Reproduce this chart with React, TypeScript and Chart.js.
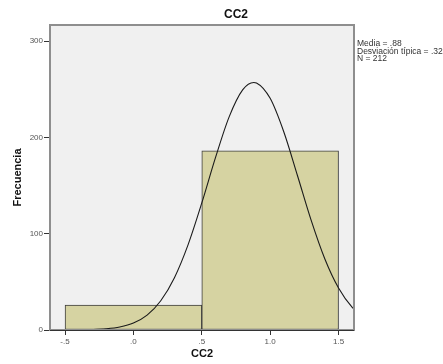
import { useEffect, useRef } from "react";
import { Chart, registerables } from "chart.js";

Chart.register(...registerables);

// Histogram bins (centers and counts)
const BIN_CENTERS = [0, 1];
const BIN_COUNTS = [26, 186];

// Fitted normal curve (mean .88, sd .329, N = 212), sampled along x
const CURVE_X = [-0.7, -0.6, -0.5, -0.4, -0.3, -0.2, -0.1, 0, 0.1, 0.2, 0.3, 0.4, 0.5, 0.6, 0.7, 0.8, 0.88, 0.9, 1.0, 1.1, 1.2, 1.3, 1.4, 1.5, 1.6, 1.7];
const CURVE_Y = [0, 0.01, 0.04, 0.13, 0.41, 1.18, 3.05, 7.19, 15.47, 30.36, 54.35, 88.69, 131.93, 178.97, 221.34, 249.58, 257.07, 256.59, 240.53, 205.57, 160.19, 113.81, 73.72, 43.54, 23.44, 11.51];

// Axes
const X_MIN = -0.61;
const X_MAX = 1.613;
const X_TICKS = [-0.5, 0, 0.5, 1, 1.5];
const X_TICK_LABELS = ["-.5", ".0", ".5", "1.0", "1.5"];
const Y_MIN = 0;
const Y_MAX = 316.7;
const Y_TICKS = [0, 100, 200, 300];

// Text
const TITLE = "CC2";
const X_TITLE = "CC2";
const Y_TITLE = "Frecuencia";
const STATS_LINES = ["Media = .88", "Desviación típica = .329", "N = 212"];

const FONT = "'Liberation Sans', Arial, sans-serif";

const frame = {
  id: "frame",
  beforeDatasetsDraw(chart: any) {
    const { ctx, chartArea: a } = chart;
    ctx.save();
    ctx.fillStyle = "#f0f0f0";
    ctx.fillRect(a.left, a.top, a.right - a.left, a.bottom - a.top);
    ctx.restore();
  },
  afterDraw(chart: any) {
    const { ctx, chartArea: a } = chart;
    ctx.save();
    // plot frame
    ctx.strokeStyle = "#8e8e8e";
    ctx.lineWidth = 2;
    ctx.strokeRect(a.left, a.top, a.right - a.left, a.bottom - a.top);
    // baseline
    ctx.strokeStyle = "#333";
    ctx.lineWidth = 1;
    ctx.beginPath();
    ctx.moveTo(a.left, Math.round(a.bottom) + 0.5);
    ctx.lineTo(a.right, Math.round(a.bottom) + 0.5);
    ctx.stroke();

    // main title
    ctx.fillStyle = "#111";
    ctx.font = `bold 12px ${FONT}`;
    ctx.textAlign = "center";
    ctx.textBaseline = "middle";
    ctx.fillText(TITLE, 236, 15);

    // summary statistics
    ctx.font = `8.5px ${FONT}`;
    ctx.fillStyle = "#333";
    ctx.textAlign = "left";
    STATS_LINES.forEach((line, i) => {
      ctx.fillText(line, 357, 44 + i * 7.3);
    });
    ctx.restore();
  },
};

export default function App() {
  const ref = useRef<HTMLCanvasElement | null>(null);

  useEffect(() => {
    if (!ref.current) return;
    const chart = new Chart(ref.current, {
      data: {
        datasets: [
          {
            type: "line",
            xAxisID: "x",
            yAxisID: "y",
            data: CURVE_X.map((x, i) => ({ x, y: CURVE_Y[i] })),
            borderColor: "#1a1a1a",
            borderWidth: 1.1,
            pointRadius: 0,
            cubicInterpolationMode: "monotone",
            fill: false,
          },
          {
            type: "bar",
            xAxisID: "xBins",
            yAxisID: "y",
            data: BIN_CENTERS.map((x, i) => ({ x, y: BIN_COUNTS[i] })),
            backgroundColor: "#d6d3a2",
            borderColor: "#3c3c3c",
            borderWidth: 1,
            borderSkipped: false,
            grouped: false,
            barPercentage: 1,
            categoryPercentage: 1,
          },
        ],
      } as any,
      options: {
        animation: false,
        responsive: false,
        devicePixelRatio: 1,
        layout: { padding: { top: 25, right: 89, left: 0, bottom: 0 } },
        plugins: {
          legend: { display: false },
          tooltip: { enabled: false },
          title: { display: false },
        },
        scales: {
          x: {
            type: "linear",
            position: "bottom",
            min: X_MIN,
            max: X_MAX,
            offset: false,
            afterBuildTicks: (s: any) => {
              s.ticks = X_TICKS.map((v) => ({ value: v }));
            },
            afterFit: (s: any) => {
              s.height = 34;
            },
            ticks: {
              autoSkip: false,
              maxRotation: 0,
              padding: 2,
              color: "#555",
              font: { family: FONT, size: 8 },
              callback: (_v: any, i: number) => X_TICK_LABELS[i],
            },
            grid: {
              display: true,
              drawOnChartArea: false,
              drawTicks: true,
              tickLength: 5,
              color: "#333",
              offset: false,
            },
            border: { display: false },
            title: {
              display: true,
              text: X_TITLE,
              color: "#111",
              font: { family: FONT, size: 11, weight: "bold" },
              padding: { top: 0, bottom: 3.5 },
            },
          },
          xBins: {
            type: "linear",
            display: false,
            min: X_MIN,
            max: X_MAX,
            offset: false,
            afterBuildTicks: (s: any) => {
              s.ticks = [];
            },
            grid: { offset: false },
          },
          y: {
            type: "linear",
            position: "left",
            min: Y_MIN,
            max: Y_MAX,
            afterBuildTicks: (s: any) => {
              s.ticks = Y_TICKS.map((v) => ({ value: v }));
            },
            afterFit: (s: any) => {
              s.width = 50;
            },
            ticks: {
              padding: 1,
              color: "#555",
              font: { family: FONT, size: 8 },
              callback: (v: any) => String(v),
            },
            grid: {
              display: true,
              drawOnChartArea: false,
              drawTicks: true,
              tickLength: 6,
              color: "#333",
            },
            border: { display: false },
            title: {
              display: true,
              text: Y_TITLE,
              color: "#111",
              font: { family: FONT, size: 11, weight: "bold" },
              padding: { top: 11.5, bottom: 0 },
            },
          },
        },
      } as any,
      plugins: [frame],
    });
    return () => chart.destroy();
  }, []);

  return (
    <div style={{ position: "fixed", left: 0, top: 0, width: 443, height: 364, background: "#fff" }}>
      <canvas ref={ref} width={443} height={364} style={{ width: 443, height: 364, display: "block" }} />
    </div>
  );
}
